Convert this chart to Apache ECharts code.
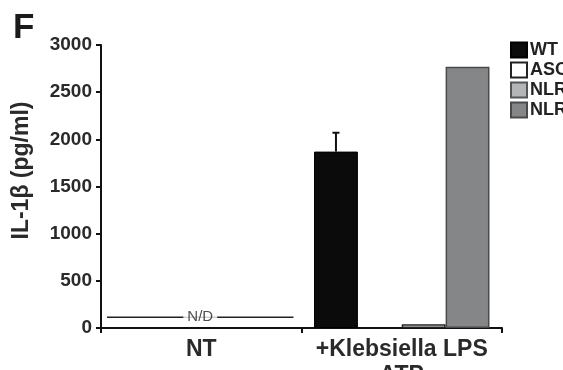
<!DOCTYPE html>
<html>
<head>
<meta charset="utf-8">
<script src="https://cdn.jsdelivr.net/npm/echarts@6/dist/echarts.min.js"></script>
<style>
html,body{margin:0;padding:0;background:#fff;}
#c{width:563px;height:370px;}
</style>
</head>
<body>
<div id="c"></div>
<script>
var categories = ['NT', '+Klebsiella LPS\nATP'];
var seriesNames = ['WT', 'ASC-/-', 'NLRP3-/-', 'NLRC4-/-'];
var wtValues = [null, 1870];
var wtErrors = [null, 200];
var ascValues = [null, 40];
var nlrp3Values = [null, null];
var nlrc4Values = [null, 2770];
var ndLevel = 115;
var ndSpan = [0.03, 0.96];

var chart = echarts.init(document.getElementById('c'), null, {renderer: 'canvas'});
var FONT = '"Liberation Sans", Arial, sans-serif';
var barCatGap = 0.125;

var errData = [];
for (var i = 0; i < categories.length; i++) {
  if (wtValues[i] != null) errData.push([i, wtValues[i], wtValues[i] + wtErrors[i]]);
}

var option = {
  animation: false,
  textStyle: {fontFamily: FONT},
  title: {
    text: 'F', left: 8, top: 6,
    textStyle: {fontFamily: FONT, fontSize: 35, fontWeight: 'bold', color: '#1a1a1a'}
  },
  legend: {
    orient: 'vertical', left: 505, top: 36,
    itemWidth: 16, itemHeight: 15, itemGap: 2,
    icon: 'rect',
    data: seriesNames,
    textStyle: {fontFamily: FONT, fontSize: 18, fontWeight: 'bold', color: '#222', padding: [0, 0, 0, -2]}
  },
  grid: {left: 101, right: 61, top: 45, bottom: 42, containLabel: false, outerBoundsMode: 'none'},
  xAxis: [{
    type: 'category', data: categories,
    axisLine: {lineStyle: {color: '#111', width: 2}},
    axisTick: {show: true, length: 5, lineStyle: {color: '#111', width: 2}},
    axisLabel: {interval: 0, hideOverlap: false, fontFamily: FONT, fontSize: 23, fontWeight: 'bold',
                color: '#2a2a2a', margin: 9, lineHeight: 26}
  }, {
    type: 'value', min: 0, max: 2, show: false
  }],
  yAxis: {
    type: 'value', min: 0, max: 3000, interval: 500,
    name: 'IL-1β (pg/ml)', nameLocation: 'middle', nameGap: 68,
    nameTextStyle: {fontFamily: FONT, fontSize: 23, fontWeight: 'bold', color: '#2a2a2a', padding: [0, 0, 0, 32]},
    axisLine: {show: true, lineStyle: {color: '#111', width: 2}},
    axisTick: {show: true, length: 5, lineStyle: {color: '#111', width: 2}},
    axisLabel: {fontFamily: FONT, fontSize: 19, fontWeight: 'bold', color: '#2a2a2a', margin: 9,
                formatter: function (v) { return String(v); }},
    splitLine: {show: false}
  },
  series: [
    {name: seriesNames[0], type: 'bar', data: wtValues, barGap: 0, barCategoryGap: '12.5%',
     itemStyle: {color: '#0b0b0c', borderColor: '#000', borderWidth: 1}},
    {name: seriesNames[2], type: 'bar', data: nlrp3Values, barGap: 0, barCategoryGap: '12.5%',
     itemStyle: {color: '#b4b5b7', borderColor: '#555', borderWidth: 1}},
    {name: seriesNames[1], type: 'bar', data: ascValues, barGap: 0, barCategoryGap: '12.5%',
     itemStyle: {color: '#ffffff', borderColor: '#222', borderWidth: 1.5}},
    {name: seriesNames[3], type: 'bar', data: nlrc4Values, barGap: 0, barCategoryGap: '12.5%',
     itemStyle: {color: '#858688', borderColor: '#4a4a4c', borderWidth: 1.5}},
    {
      type: 'custom', silent: true, data: errData, z: 5,
      renderItem: function (params, api) {
        var idx = api.value(0);
        var base = api.coord([idx, api.value(1)]);
        var top = api.coord([idx, api.value(2)]);
        var catW = api.size([1, 0])[0];
        var barW = catW * (1 - barCatGap) / 4;
        var x = base[0] - 1.5 * barW;
        return {
          type: 'group',
          children: [
            {type: 'line', shape: {x1: x, y1: base[1], x2: x, y2: top[1]}, style: {stroke: '#111', lineWidth: 2}},
            {type: 'line', shape: {x1: x - 3.5, y1: top[1], x2: x + 3.5, y2: top[1]}, style: {stroke: '#111', lineWidth: 2}}
          ]
        };
      }
    },
    {
      type: 'line', xAxisIndex: 1, symbol: 'none', silent: true,
      data: [[ndSpan[0], ndLevel], [ndSpan[1], ndLevel]],
      lineStyle: {color: '#222', width: 1.5}
    },
    {
      type: 'scatter', xAxisIndex: 1, symbolSize: 0, silent: true, z: 10,
      data: [[(ndSpan[0] + ndSpan[1]) / 2, ndLevel]],
      label: {show: true, position: 'inside', formatter: 'N/D', fontFamily: FONT, fontSize: 15,
              color: '#222', backgroundColor: '#fff', padding: [0, 4]}
    }
  ]
};
chart.setOption(option);
</script>
</body>
</html>
